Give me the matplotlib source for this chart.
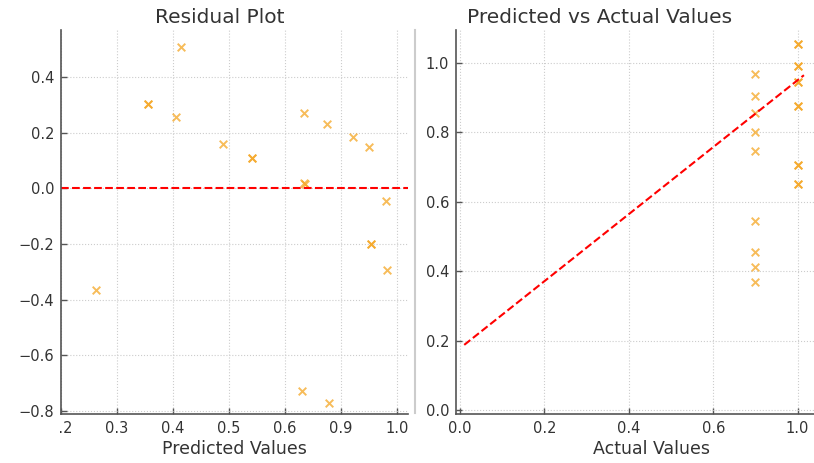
import numpy as np
import matplotlib
matplotlib.use('Agg')
import matplotlib.pyplot as plt
from matplotlib.lines import Line2D
from matplotlib.transforms import Bbox, TransformedBbox

# Residuals against predicted values
pred_vals = [0.415, 0.356, 0.356, 0.405, 0.490, 0.542, 0.542, 0.701, 0.827, 0.921,
             0.951, 0.700, 0.706, 0.980, 0.263, 0.954, 0.954, 0.983, 0.692, 0.838]
residuals = [0.510, 0.305, 0.305, 0.257, 0.161, 0.111, 0.111, 0.272, 0.232, 0.185,
             0.148, 0.020, 0.016, -0.045, -0.365, -0.200, -0.200, -0.294, -0.728, -0.771]

# Predicted against actual values
actual_vals = [0.8, 0.8, 0.8, 0.8, 0.8, 0.8, 0.8, 0.8, 0.8,
               1.0, 1.0, 1.0, 1.0, 1.0, 1.0, 1.0, 1.0, 1.0, 1.0, 1.0, 1.0]
predicted = [0.967, 0.903, 0.854, 0.800, 0.746, 0.545, 0.455, 0.411, 0.368,
             1.055, 1.055, 0.991, 0.991, 0.945, 0.945, 0.876, 0.876, 0.707, 0.707,
             0.652, 0.652]

# fitted trend line
fit_x = [0.01, 0.6, 1.03]
fit_y = [0.188, 0.757, 0.964]

res_xticks = [0.2, 0.3, 0.4, 0.5, 0.6, 0.9, 1.0]
res_yticks = [-0.8, -0.6, -0.4, -0.2, 0.0, 0.2, 0.4]
pva_xticks = [0.0, 0.2, 0.4, 0.6, 1.0]
pva_yticks = [0.0, 0.2, 0.4, 0.6, 0.8, 1.0]


def even_tick_scale(ticks):
    # put every tick at an equal distance, linear in between and past the ends
    t = np.asarray(ticks, float)
    vals = np.concatenate([[t[0] - (t[1] - t[0]) * 10], t, [t[-1] + (t[-1] - t[-2]) * 10]])
    pos = np.concatenate([[-10], np.arange(len(t)), [len(t) - 1 + 10]]).astype(float)
    return (lambda x: np.interp(x, vals, pos), lambda p: np.interp(p, pos, vals))


text_col = '#333333'
spine_col = '#555555'
mark_col = '#f5a623'

plt.rcParams['font.family'] = 'DejaVu Sans'
fig = plt.figure(figsize=(8.14, 4.63), dpi=100)
ax1 = fig.add_axes([0.0749, 0.1065, 0.4263, 0.8287])
ax2 = fig.add_axes([0.5602, 0.1065, 0.4803, 0.8287])

for ax in (ax1, ax2):
    for side in ('top', 'right'):
        ax.spines[side].set_visible(False)
    for side in ('left', 'bottom'):
        ax.spines[side].set_color(spine_col)
        ax.spines[side].set_linewidth(1.2)
    ax.grid(True, linestyle=':', color='#cccccc', linewidth=0.8)
    ax.set_axisbelow(True)
    ax.tick_params(direction='in', length=4, width=1, color=spine_col,
                   labelsize=10.5, labelcolor=text_col, pad=5)

# Residual plot
ax1.set_xscale('function', functions=even_tick_scale(res_xticks))
ax1.scatter(pred_vals, residuals, marker='x', s=30, color=mark_col, alpha=0.75, linewidths=1.4)
ax1.axhline(0, color='red', linestyle='--', linewidth=1.5)
ax1.set_xlim(0.2, 1.02)
ax1.set_ylim(-0.81, 0.57)
ax1.set_xticks(res_xticks)
ax1.set_xticklabels([f'{v:.1f}' for v in res_xticks])
ax1.set_yticks(res_yticks)
ax1.set_title('Residual Plot', fontsize=14.5, color=text_col, x=0.458, pad=5)
ax1.set_xlabel('Predicted Values', fontsize=12.5, color=text_col, labelpad=3)

# first x label sits under the y labels, show only what is right of the spine
first = ax1.xaxis.get_major_ticks()[0].label1
first.set_clip_box(TransformedBbox(Bbox([[-0.009, -0.3], [1.2, 1.0]]), ax1.transAxes))
first.set_clip_on(True)

# Predicted vs actual
ax2.set_xscale('function', functions=even_tick_scale(pva_xticks))
ax2.scatter(actual_vals, predicted, marker='x', s=30, color=mark_col, alpha=0.75, linewidths=1.4)
ax2.plot(fit_x, fit_y, color='red', linestyle='--', linewidth=1.5)
ax2.set_xlim(-0.0095, 1.234)
ax2.set_ylim(-0.01, 1.094)
ax2.set_xticks(pva_xticks)
ax2.set_xticklabels([f'{v:.1f}' for v in pva_xticks])
ax2.set_yticks(pva_yticks)
ax2.set_title('Predicted vs Actual Values', fontsize=14.5, color=text_col, x=0.368, pad=5)
ax2.set_xlabel('Actual Values', fontsize=12.5, color=text_col, labelpad=3)

# thin divider between the two panels
fig.add_artist(Line2D([0.5098, 0.5098], [0.108, 0.935], transform=fig.transFigure,
                      color='#cccccc', linewidth=1.5))

fig.savefig('out.png', dpi=100)
